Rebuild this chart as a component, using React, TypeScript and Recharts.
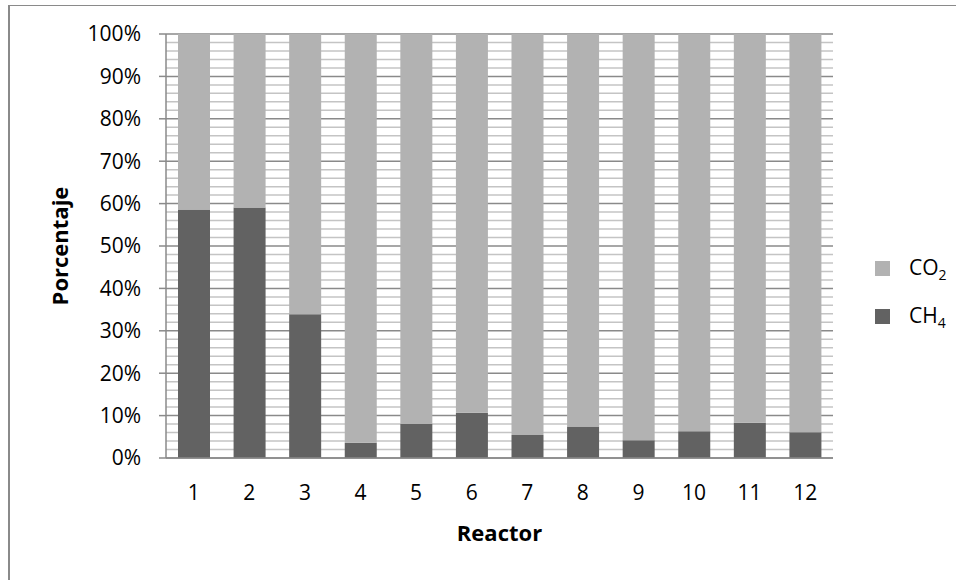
import { Bar, BarChart, CartesianGrid, Label, Legend, XAxis, YAxis } from "recharts";

const reactors = ["1", "2", "3", "4", "5", "6", "7", "8", "9", "10", "11", "12"];
const ch4 = [58.6, 59.1, 33.9, 3.6, 8.0, 10.7, 5.4, 7.4, 4.2, 6.3, 8.3, 6.1];
const co2 = [41.4, 40.9, 66.1, 96.4, 92.0, 89.3, 94.6, 92.6, 95.8, 93.7, 91.7, 93.9];
const yTicks = [0, 10, 20, 30, 40, 50, 60, 70, 80, 90, 100];
const minorTicks = Array.from({ length: 51 }, (_, i) => i * 2).filter((v) => v % 10 !== 0);

const data = reactors.map((reactor, i) => ({ reactor, CH4: ch4[i], CO2: co2[i] }));

const font = "'Open Sans', sans-serif";

// "CO2" -> CO<sub>2</sub>
function formula(name: string) {
  const m = name.match(/^(.*?)(\d+)$/);
  if (!m) return name;
  return (
    <>
      {m[1]}
      <sub style={{ fontSize: 14, verticalAlign: -5 }}>{m[2]}</sub>
    </>
  );
}

function LegendBox({ payload }: any) {
  const items = [...(payload ?? [])].reverse();
  return (
    <div>
      {items.map((p: any) => (
        <div key={p.value} style={{ display: "flex", alignItems: "center", height: 48 }}>
          <span style={{ width: 15, height: 15, background: p.color, marginRight: 19, flex: "none" }} />
          <span style={{ fontFamily: font, fontSize: 21, color: "#000", lineHeight: "21px", marginTop: 6 }}>
            {formula(p.value)}
          </span>
        </div>
      ))}
    </div>
  );
}

function YTitle({ viewBox }: any) {
  const cy = viewBox.y + viewBox.height / 2;
  return (
    <text
      x={59}
      y={cy}
      transform={`rotate(-90, 59, ${cy})`}
      textAnchor="middle"
      dominantBaseline="central"
      fontFamily={font}
      fontSize={22}
      fontWeight={700}
      fill="#000"
    >
      Porcentaje
    </text>
  );
}

export default function App() {
  return (
    <div style={{ position: "absolute", left: 0, top: 0, width: 956, height: 580, overflow: "hidden", background: "#fff" }}>
      <div
        style={{
          position: "absolute",
          left: 8,
          top: 5,
          width: 980,
          height: 620,
          borderLeft: "2px solid #8a8a8a",
          borderTop: "1.5px solid #8a8a8a",
        }}
      />
      <BarChart
        width={956}
        height={580}
        data={data}
        margin={{ top: 34, right: 123, bottom: 38, left: 20 }}
        barSize={32}
      >
        <CartesianGrid vertical={false} horizontalValues={minorTicks} stroke="#c4c4c4" strokeWidth={1.5} />
        <CartesianGrid vertical={false} horizontalValues={yTicks} stroke="#8a8a8a" strokeWidth={1.5} />
        <XAxis
          dataKey="reactor"
          height={84}
          interval={0}
          tickLine={false}
          tickSize={0}
          tickMargin={27}
          axisLine={{ stroke: "#8a8a8a", strokeWidth: 1.5 }}
          tick={{ fill: "#000", fontSize: 21, fontFamily: font }}
        >
          <Label
            value="Reactor"
            position="insideBottom"
            offset={1}
            fill="#000"
            style={{ fontFamily: font, fontSize: 22, fontWeight: 700 }}
          />
        </XAxis>
        <YAxis
          type="number"
          domain={[0, 100]}
          ticks={yTicks}
          interval={0}
          width={146}
          tickSize={7}
          tickMargin={18}
          tickFormatter={(v: number) => `${v}%`}
          axisLine={{ stroke: "#8a8a8a", strokeWidth: 1.5 }}
          tickLine={{ stroke: "#8a8a8a", strokeWidth: 1.5 }}
          tick={{ fill: "#000", fontSize: 21, fontFamily: font }}
        >
          <Label content={YTitle} />
        </YAxis>
        <Legend
          layout="horizontal"
          verticalAlign="middle"
          align="center"
          wrapperStyle={{ left: 875, top: 244, width: 80 }}
          content={LegendBox}
        />
        <Bar dataKey="CH4" name="CH4" stackId="a" fill="#626262" isAnimationActive={false} />
        <Bar dataKey="CO2" name="CO2" stackId="a" fill="#b2b2b2" isAnimationActive={false} />
      </BarChart>
    </div>
  );
}
